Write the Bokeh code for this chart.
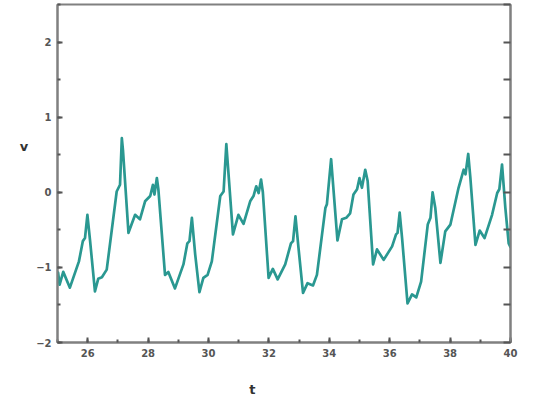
from bokeh.plotting import figure
from bokeh.models import Range1d, LinearAxis, SingleIntervalTicker
from bokeh.embed import file_html
from bokeh.resources import INLINE

t = [25.02, 25.07, 25.19, 25.41, 25.71, 25.84, 25.91, 25.99, 26.08, 26.24, 26.35, 26.47, 26.63,
     26.96, 27.07, 27.13, 27.17, 27.35, 27.57, 27.73, 27.90, 28.07, 28.16, 28.21, 28.29, 28.34,
     28.56, 28.67, 28.89, 29.17, 29.30, 29.37, 29.45, 29.56, 29.70, 29.83, 29.97, 30.11, 30.39,
     30.50, 30.59, 30.81, 30.99, 31.16, 31.38, 31.49, 31.58, 31.66, 31.74, 31.80, 31.99, 32.13,
     32.29, 32.54, 32.73, 32.80, 32.88, 32.98, 33.13, 33.28, 33.46, 33.59, 33.87, 33.92, 34.06,
     34.27, 34.42, 34.56, 34.69, 34.80, 34.92, 35.00, 35.08, 35.19, 35.27, 35.45, 35.58, 35.80,
     36.08, 36.21, 36.26, 36.33, 36.41, 36.59, 36.74, 36.88, 37.04, 37.26, 37.35, 37.42, 37.51,
     37.68, 37.84, 38.01, 38.28, 38.45, 38.51, 38.60, 38.67, 38.84, 38.98, 39.14, 39.39, 39.56,
     39.63, 39.72, 39.83, 39.94, 40.00]
v = [-1.07, -1.23, -1.06, -1.27, -0.92, -0.65, -0.61, -0.30, -0.65, -1.32, -1.15, -1.13, -1.03,
     0.01, 0.10, 0.72, 0.55, -0.54, -0.30, -0.36, -0.12, -0.05, 0.10, -0.03, 0.19, 0.04,
     -1.10, -1.06, -1.28, -0.96, -0.68, -0.65, -0.34, -0.83, -1.33, -1.14, -1.10, -0.92, -0.05,
     0.01, 0.64, -0.56, -0.30, -0.42, -0.12, -0.05, 0.08, -0.01, 0.17, 0.00, -1.14, -1.02,
     -1.16, -0.96, -0.68, -0.65, -0.32, -0.74, -1.34, -1.21, -1.24, -1.10, -0.21, -0.16, 0.44,
     -0.64, -0.36, -0.34, -0.28, -0.03, 0.04, 0.19, 0.06, 0.30, 0.15, -0.96, -0.76, -0.90,
     -0.72, -0.56, -0.54, -0.27, -0.61, -1.48, -1.36, -1.40, -1.19, -0.43, -0.34, 0.00, -0.21,
     -0.94, -0.52, -0.43, 0.06, 0.30, 0.24, 0.51, 0.20, -0.70, -0.51, -0.61, -0.30, -0.01,
     0.04, 0.37, -0.21, -0.68, -0.73]

x_label = "t"
y_label = "v"

p = figure(width=535, height=400, output_backend="svg", toolbar_location=None,
           x_range=Range1d(25, 40), y_range=Range1d(-2, 2.5),
           x_axis_type=None, y_axis_type=None,
           min_border_left=57, min_border_right=25, min_border_top=4, min_border_bottom=58)
p.xgrid.visible = False
p.ygrid.visible = False
p.outline_line_color = "#808080"
p.outline_line_width = 2
p.background_fill_color = "white"
p.border_fill_color = "white"

axis_color = "#808080"
tick_color = "#555555"
label_color = "#555555"
font = "DejaVu Sans"

xa = LinearAxis(ticker=SingleIntervalTicker(interval=2, num_minor_ticks=2))
ya = LinearAxis(ticker=SingleIntervalTicker(interval=1, num_minor_ticks=2))
for ax in (xa, ya):
    ax.axis_line_color = axis_color
    ax.axis_line_width = 2
    ax.major_tick_in = 5
    ax.major_tick_out = 0
    ax.minor_tick_in = 3
    ax.minor_tick_out = 0
    ax.major_tick_line_color = tick_color
    ax.major_tick_line_width = 2
    ax.minor_tick_line_color = tick_color
    ax.minor_tick_line_width = 2
    ax.major_label_text_font = font
    ax.major_label_text_font_size = "10px"
    ax.major_label_text_font_style = "bold"
    ax.major_label_text_color = label_color
    ax.axis_label_text_font = font
    ax.axis_label_text_font_size = "13px"
    ax.axis_label_text_font_style = "bold"
    ax.axis_label_text_color = "#333333"
xa.major_label_standoff = 6
ya.major_label_standoff = 6

# axis titles sit off-centre in the reference: pad them so they land there
xa.axis_label = x_label + "\u00a0" * 14
xa.axis_label_standoff = 22
ya.axis_label = y_label + "\n\u00a0\n\u00a0\n\u00a0"
ya.axis_label_orientation = "horizontal"
ya.axis_label_standoff = 5
p.add_layout(xa, "below")
p.add_layout(ya, "left")

ra = LinearAxis(ticker=SingleIntervalTicker(interval=0.5, num_minor_ticks=0))
ra.axis_line_color = axis_color
ra.axis_line_width = 2
ra.major_tick_in = 7
ra.major_tick_out = 0
ra.major_tick_line_color = tick_color
ra.major_tick_line_width = 2
ra.minor_tick_line_color = None
ra.major_label_text_font_size = "0px"
ra.major_label_text_alpha = 0
p.add_layout(ra, "right")

p.line(t, v, line_color="#2a9891", line_width=2.7, line_join="round", line_cap="round")

open("out.html", "w").write(file_html(p, INLINE))
